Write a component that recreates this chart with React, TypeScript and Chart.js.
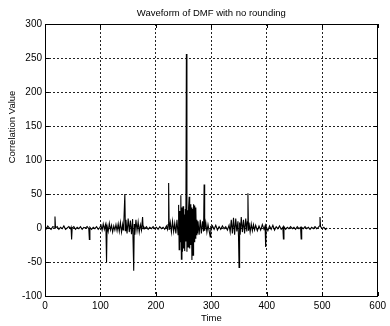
import React, { useEffect, useRef } from "react";
import { Chart, registerables } from "chart.js";

Chart.register(...registerables);

const chartTitle = "Waveform of DMF with no rounding";
const xTitle = "Time";
const yTitle = "Correlation Value";
const xTicks = [0, 100, 200, 300, 400, 500, 600];
const yTicks = [-100, -50, 0, 50, 100, 150, 200, 250, 300];

const times = [
  1, 3, 5, 8, 11, 14, 17, 18, 19, 22, 25, 28, 31, 34, 37, 40, 43, 46, 47, 48, 49, 52, 55, 58, 61, 64, 67, 70, 73, 76, 79, 80, 81, 84, 87, 90, 93, 96, 99,
  101, 103, 105, 107, 109, 110, 111, 112, 114, 116, 118, 120, 122, 124, 126, 128, 130, 132, 134, 136, 138, 140,
  141, 142, 144, 145, 146, 148, 150, 152, 154, 156, 158, 160, 161, 162, 164, 166, 168, 170, 172, 174, 176, 177, 178,
  180, 183, 186, 189, 192, 195, 198, 201, 204, 207, 210, 213, 216, 219, 221,
  222, 223, 224, 226, 228, 230, 232, 234, 236,
  238, 240, 241, 242, 243, 244, 245, 246, 247, 248, 249, 250, 251, 252, 253, 254, 255, 256, 257, 258, 259, 260, 261, 262, 263, 264, 265, 266, 267, 268, 269, 270, 271, 272, 273, 274, 275, 276,
  278, 280, 282, 284, 286, 287, 288, 290, 292, 294, 296, 298, 299, 300,
  302, 305, 308, 311, 314, 317, 320, 323, 326, 329, 332,
  334, 336, 338, 340, 342, 344, 346, 348, 349, 350, 351, 352, 354, 356, 358, 360, 362, 364, 365, 366, 367, 368, 370, 372, 374, 376, 378, 380,
  383, 386, 389, 392, 395, 397, 398, 399, 402, 405, 408, 411, 414, 417, 420, 423, 426, 429, 430, 431, 434, 437, 440, 443, 446, 449, 452, 455, 458, 461, 462, 463, 466, 469, 472, 475, 478, 481, 484, 487, 490, 493, 495, 496, 497, 500, 503, 506, 509,
];

const correlation = [
  2, -1, 3, 0, -2, 2, 1, 17, 0, 2, -2, 1, -1, 3, -2, 0, 2, -1, 1, -17, 0, 2, -2, 1, -1, 2, -2, 1, 0, 2, -1, -17, 1, -2, 1, -1, 2, -2, 1,
  4, -3, 6, -2, 5, -4, -50, 3, -5, 7, -3, 4, -6, 3, -3, 5, -4, 6, -5, 8, -6, 5,
  -3, 4, 50, -4, 12, -8, 14, -6, 11, -9, 13, -63, 6, -10, 12, -4, 9, -6, 5, -3, 16, -1, 2,
  -1, 2, -2, 1, -1, 2, -1, 1, -2, 2, -1, 1, -2, 3, -2,
  5, 66, -3, 8, -6, 10, -5, 7, -8,
  12, -10, 34, -32, 25, -20, 48, -46, 30, -35, 32, -30, 20, -34, 28, -20, 256, -35, 26, -28, 30, 46, -30, 35, -25, 30, -47, 28, -40, 35, -20, 33, -15, 30, -10, 12, -8, 10,
  -10, 12, -8, 10, -5, 64, -4, 8, -6, 5, -4, -13, 3, -2,
  3, -2, 4, -3, 2, -2, 3, -1, 2, -3, 4,
  -6, 12, -8, 15, -10, 14, -5, 10, -12, -58, 8, -10, 16, -6, 12, -8, 14, -5, 9, 51, -4, 8, -6, 6, -4, 5, -3, 4,
  -4, 3, -3, 5, -2, 3, -28, 2, -4, 3, -2, 4, -3, 2, -1, 3, -2, 1, -16, 2, -2, 1, -1, 2, -1, 1, -2, 2, -1, 1, -16, 1, -1, 2, -1, 1, -2, 1, -1, 2, -1, 1, 3, 16, 2, -1, 1, -2, 0,
];

const FONT = "Liberation Sans, Arial, sans-serif";

const decorPlugin = {
  id: "decor",
  afterDatasetsDraw(chart: any) {
    const { ctx, chartArea } = chart;
    const { left, right, top, bottom } = chartArea;
    const xs = chart.scales.x;
    const ys = chart.scales.y;
    ctx.save();
    ctx.strokeStyle = "#000";
    ctx.lineWidth = 1;
    ctx.setLineDash([]);
    ctx.strokeRect(Math.round(left) + 0.5, Math.round(top) + 0.5, Math.round(right - left) - 1, Math.round(bottom - top));
    ctx.beginPath();
    xTicks.forEach((t) => {
      const px = Math.round(xs.getPixelForValue(t)) + 0.5;
      ctx.moveTo(px, bottom);
      ctx.lineTo(px, bottom - 4);
      ctx.moveTo(px, top);
      ctx.lineTo(px, top + 4);
    });
    yTicks.forEach((t) => {
      const py = Math.round(ys.getPixelForValue(t)) + 0.5;
      ctx.moveTo(left, py);
      ctx.lineTo(left + 4, py);
      ctx.moveTo(right, py);
      ctx.lineTo(right - 4, py);
    });
    ctx.stroke();
    ctx.fillStyle = "#000";
    ctx.textAlign = "center";
    ctx.textBaseline = "middle";
    ctx.font = `9.5px ${FONT}`;
    ctx.fillText(chartTitle, (left + right) / 2, 13);
    ctx.fillText(xTitle, (left + right) / 2, 318);
    ctx.translate(12, 127);
    ctx.rotate(-Math.PI / 2);
    ctx.fillText(yTitle, 0, 0);
    ctx.restore();
  },
};

export default function App() {
  const canvasRef = useRef<HTMLCanvasElement | null>(null);
  useEffect(() => {
    if (!canvasRef.current) return;
    const points = times.map((t, i) => ({ x: t, y: correlation[i] }));
    const chart = new Chart(canvasRef.current, {
      type: "line",
      data: {
        datasets: [
          {
            data: points,
            borderColor: "#000",
            borderWidth: 1.1,
            pointRadius: 0,
            tension: 0,
            fill: false,
          },
        ],
      },
      options: {
        animation: false,
        responsive: false,
        devicePixelRatio: 1,
        layout: { padding: { top: 24, right: 6, left: 0, bottom: 0 } },
        plugins: { legend: { display: false }, tooltip: { enabled: false } },
        scales: {
          x: {
            type: "linear",
            min: 0,
            max: 600,
            afterFit: (s: any) => {
              s.height = 30;
            },
            afterBuildTicks: (s: any) => {
              s.ticks = xTicks.map((v) => ({ value: v }));
            },
            border: { display: false, dash: [2, 2] },
            grid: { color: "#222", lineWidth: 1, drawTicks: false, tickLength: 0 },
            ticks: { color: "#000", padding: 4, font: { family: FONT, size: 10 }, maxRotation: 0, autoSkip: false },
          },
          y: {
            type: "linear",
            min: -100,
            max: 300,
            afterFit: (s: any) => {
              s.width = 45;
            },
            afterBuildTicks: (s: any) => {
              s.ticks = yTicks.map((v) => ({ value: v }));
            },
            border: { display: false, dash: [2, 2] },
            grid: { color: "#222", lineWidth: 1, drawTicks: false, tickLength: 0 },
            ticks: { color: "#000", padding: 3, font: { family: FONT, size: 10 }, autoSkip: false },
          },
        },
      },
      plugins: [decorPlugin],
    } as any);
    return () => chart.destroy();
  }, []);
  return (
    <div style={{ position: "absolute", left: 0, top: 0, width: 390, height: 326, background: "#fff" }}>
      <canvas ref={canvasRef} width={390} height={326} />
    </div>
  );
}
